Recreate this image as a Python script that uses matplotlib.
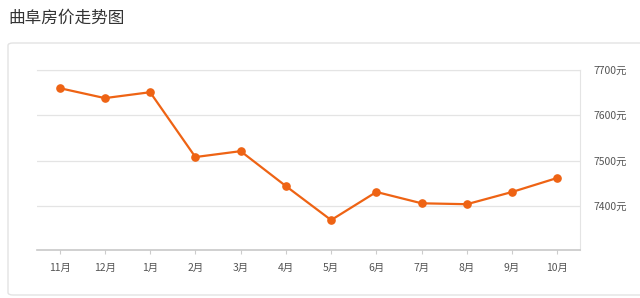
import matplotlib
matplotlib.use('Agg')
import matplotlib.pyplot as plt
from matplotlib.patches import FancyBboxPatch

plt.rcParams['font.family'] = ['Noto Sans CJK SC', 'DejaVu Sans']

months = ['11月', '12月', '1月', '2月', '3月', '4月', '5月', '6月', '7月', '8月', '9月', '10月']
prices = [7660, 7638, 7651, 7508, 7521, 7444, 7369, 7431, 7406, 7404, 7431, 7462]
yticks = [7400, 7500, 7600, 7700]
ytick_labels = ['7400元', '7500元', '7600元', '7700元']

W, H = 640, 298
fig = plt.figure(figsize=(W / 100, H / 100), dpi=100)
fig.patch.set_facecolor('white')

# card around the chart, kept behind the axes
card = FancyBboxPatch((8 / W, 3 / H), 640 / W, 252 / H,
                      boxstyle='round,pad=0,rounding_size=0.008',
                      transform=fig.transFigure, facecolor='white',
                      edgecolor='#e3e3e3', linewidth=1, zorder=-10)
fig.patches.append(card)

fig.text(8 / W, 1 - 18 / H, '曲阜房价走势图', fontsize=12, color='#333333',
         ha='left', va='center')

ax = fig.add_axes([37 / W, 48 / H, 543 / W, 180 / H])
ax.set_facecolor('none')
x = list(range(len(months)))
ax.plot(x, prices, color='#ee6314', linewidth=1.6, marker='o', markersize=5.2, zorder=3)

ax.set_xlim(-0.5, len(months) - 0.5)
ax.set_ylim(7303, 7700)
ax.set_xticks(x)
ax.set_xticklabels(months, fontsize=7.5, color='#555555')
ax.set_yticks(yticks)
ax.set_yticklabels(ytick_labels, fontsize=7.5, color='#555555')
ax.yaxis.tick_right()
ax.tick_params(axis='y', length=0, pad=10)
ax.tick_params(axis='x', length=3, color='#cccccc', pad=6)
ax.grid(axis='y', color='#e4e4e4', linewidth=0.9)
ax.set_axisbelow(True)

ax.spines['left'].set_visible(False)
ax.spines['top'].set_color('#e4e4e4')
ax.spines['right'].set_color('#e4e4e4')
ax.spines['bottom'].set_color('#c8c8c8')
ax.spines['bottom'].set_linewidth(1.2)

fig.savefig('out.png', dpi=100, facecolor='white')
